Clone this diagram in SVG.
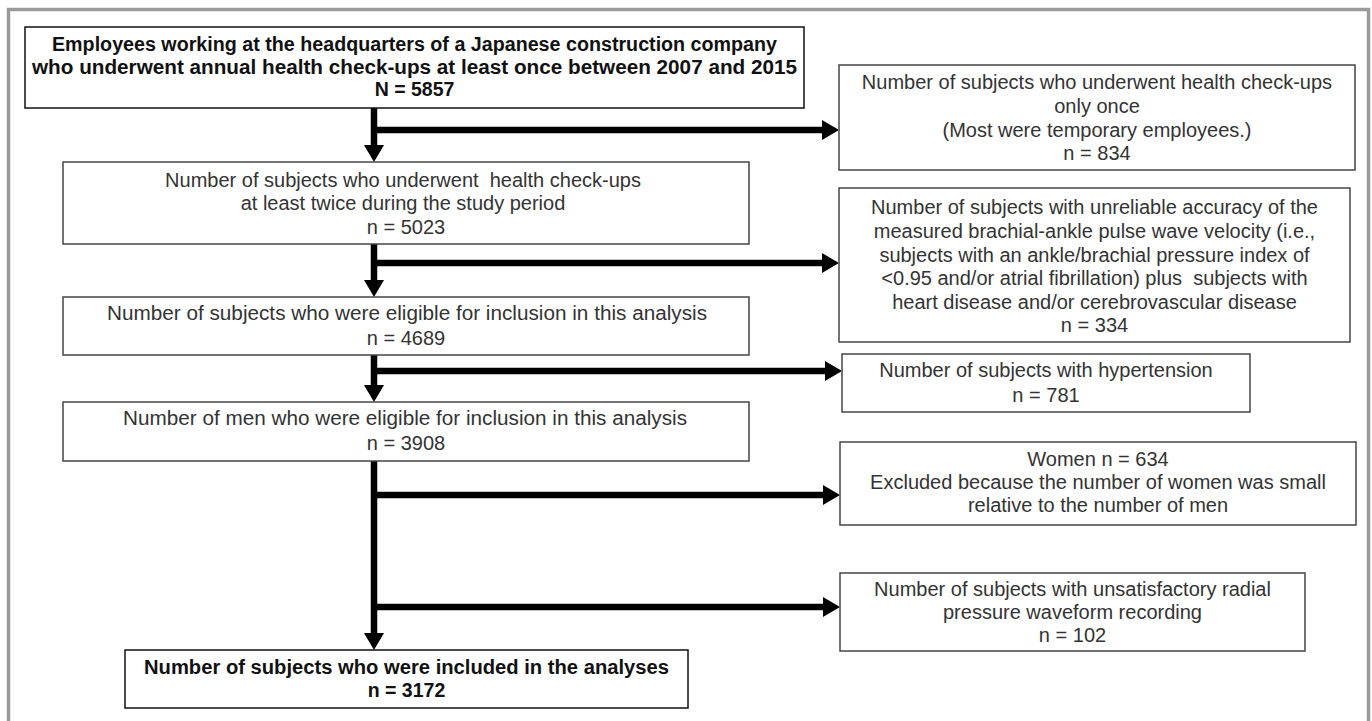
<svg xmlns="http://www.w3.org/2000/svg" width="1372" height="721" viewBox="0 0 1372 721">
<style>
.bg{fill:#fff}
.frame{fill:none;stroke:#9a9a9a;stroke-width:3.5}
.box{fill:#fff;stroke:#454545;stroke-width:1.5}
.boxb{fill:#fff;stroke:#111;stroke-width:1.5}
.t{font-family:"Liberation Sans",Arial,sans-serif;font-size:20px;fill:#333;text-anchor:middle}
.tb{font-family:"Liberation Sans",Arial,sans-serif;font-size:19.5px;font-weight:bold;fill:#111;text-anchor:middle}
.c{fill:none;stroke:#000;stroke-width:6.5}
</style>
<defs>
<marker id="ah" viewBox="0 0 17 20" refX="7" refY="10" markerWidth="17" markerHeight="20" markerUnits="userSpaceOnUse" orient="auto">
<path d="M0,0 L17,10 L0,20 Z" fill="#000"/>
</marker>
</defs>
<rect class="bg" x="0" y="0" width="1372" height="721"/>
<path class="frame" d="M8.5,721 V9.5 H1368.5 V721"/>

<g id="connectors">
<path class="c" d="M374,108 V152" marker-end="url(#ah)"/>
<path class="c" d="M371,130 H829" marker-end="url(#ah)"/>
<path class="c" d="M374,244 V287" marker-end="url(#ah)"/>
<path class="c" d="M371,263 H829" marker-end="url(#ah)"/>
<path class="c" d="M374,355 V392" marker-end="url(#ah)"/>
<path class="c" d="M371,371 H832" marker-end="url(#ah)"/>
<path class="c" d="M374,461 V640" marker-end="url(#ah)"/>
<path class="c" d="M371,495 H830" marker-end="url(#ah)"/>
<path class="c" d="M371,607 H830" marker-end="url(#ah)"/>
</g>

<g id="n1">
<rect class="boxb" x="25" y="27" width="779" height="81"/>
<text class="tb" x="414.5" y="51" textLength="725" lengthAdjust="spacingAndGlyphs">Employees working at the headquarters of a Japanese construction company</text>
<text class="tb" x="414.5" y="74" textLength="765" lengthAdjust="spacingAndGlyphs">who underwent annual health check-ups at least once between 2007 and 2015</text>
<text class="tb" x="414.5" y="96">N = 5857</text>
</g>

<g id="n2">
<rect class="box" x="839" y="65" width="516" height="105"/>
<text class="t" x="1097" y="89">Number of subjects who underwent health check-ups</text>
<text class="t" x="1097" y="113">only once</text>
<text class="t" x="1097" y="137">(Most were temporary employees.)</text>
<text class="t" x="1097" y="160">n = 834</text>
</g>

<g id="n3">
<rect class="box" x="63" y="162" width="686" height="82"/>
<text class="t" x="403" y="187" xml:space="preserve">Number of subjects who underwent  health check-ups</text>
<text class="t" x="403" y="210">at least twice during the study period</text>
<text class="t" x="406" y="234">n = 5023</text>
</g>

<g id="n4">
<rect class="box" x="839" y="188" width="511" height="154"/>
<text class="t" x="1094.5" y="214">Number of subjects with unreliable accuracy of the</text>
<text class="t" x="1094.5" y="238">measured brachial-ankle pulse wave velocity (i.e.,</text>
<text class="t" x="1094.5" y="262">subjects with an ankle/brachial pressure index of</text>
<text class="t" x="1094.5" y="285" xml:space="preserve">&lt;0.95 and/or atrial fibrillation) plus  subjects with</text>
<text class="t" x="1094.5" y="309">heart disease and/or cerebrovascular disease</text>
<text class="t" x="1094.5" y="332">n = 334</text>
</g>

<g id="n5">
<rect class="box" x="63" y="297" width="686" height="58"/>
<text class="t" x="407" y="320" textLength="600" lengthAdjust="spacingAndGlyphs">Number of subjects who were eligible for inclusion in this analysis</text>
<text class="t" x="406" y="345">n = 4689</text>
</g>

<g id="n6">
<rect class="box" x="842" y="354" width="408" height="58"/>
<text class="t" x="1046" y="377">Number of subjects with hypertension</text>
<text class="t" x="1046" y="402">n = 781</text>
</g>

<g id="n7">
<rect class="box" x="63" y="402" width="686" height="59"/>
<text class="t" x="405" y="425" textLength="564" lengthAdjust="spacingAndGlyphs">Number of men who were eligible for inclusion in this analysis</text>
<text class="t" x="406" y="450">n = 3908</text>
</g>

<g id="n8">
<rect class="box" x="840" y="442" width="516" height="83"/>
<text class="t" x="1098" y="466">Women n = 634</text>
<text class="t" x="1098" y="489">Excluded because the number of women was small</text>
<text class="t" x="1098" y="512">relative to the number of men</text>
</g>

<g id="n9">
<rect class="box" x="840" y="573" width="465" height="78"/>
<text class="t" x="1072.5" y="596">Number of subjects with unsatisfactory radial</text>
<text class="t" x="1072.5" y="619">pressure waveform recording</text>
<text class="t" x="1072.5" y="642">n = 102</text>
</g>

<g id="n10">
<rect class="boxb" x="125" y="650" width="563" height="58"/>
<text class="tb" x="406.5" y="674" textLength="525" lengthAdjust="spacingAndGlyphs">Number of subjects who were included in the analyses</text>
<text class="tb" x="406.5" y="697">n = 3172</text>
</g>
</svg>
